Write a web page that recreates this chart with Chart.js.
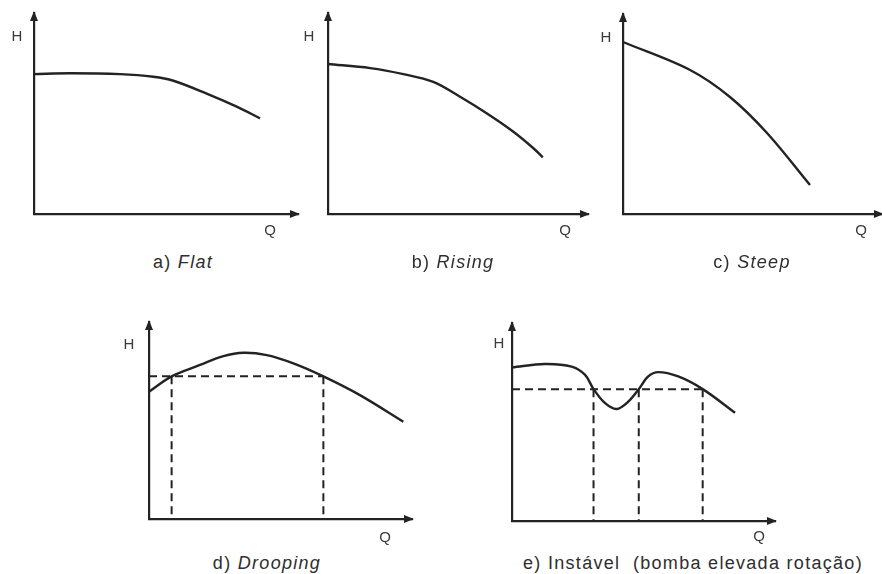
<!DOCTYPE html>
<html>
<head>
<meta charset="utf-8">
<script src="https://cdn.jsdelivr.net/npm/chart.js@4.4.1/dist/chart.umd.min.js"></script>
<style>
  html, body { margin: 0; padding: 0; background: #fff; }
  body { position: relative; width: 882px; height: 574px; overflow: hidden; }
  canvas { position: absolute; }
  .cap {
    position: absolute;
    transform: translate(-50%, -50%);
    font-family: "Liberation Sans", Arial, sans-serif;
    font-size: 18px;
    letter-spacing: 1.3px;
    color: #2e2e2e;
    white-space: pre;
  }
</style>
</head>
<body>
<script>
// curve data, Q and H in % of the axis length
const flatQ = [0, 13.6, 32.6, 45.2, 52.8, 65.4, 76.8, 85.6];
const flatH = [69.6, 70.0, 69.6, 68.3, 66.3, 59.9, 53.4, 47.6];

const risingQ = [0, 16.2, 29.0, 40.5, 50.8, 61.0, 71.3, 79.0, 82.6];
const risingH = [74.6, 72.6, 69.6, 65.7, 58.3, 50.1, 40.9, 32.7, 28.2];

const steepQ = [0, 25.9, 41.3, 55.6, 72.2];
const steepH = [86.0, 72.0, 58.5, 40.5, 14.5];

const droopQ = [0, 8.6, 19.4, 28.3, 35.9, 44.8, 54.9, 66.3, 80.2, 96.7];
const droopH = [64.6, 72.4, 78.2, 82.7, 84.4, 83.2, 79.0, 72.4, 62.9, 49.4];
const droopLevel = 72.4;
const droopCross = [8.6, 66.3];

const unstQ = [0, 12.5, 22.7, 27.8, 31.0, 35.4, 39.8, 44.2, 48.2, 51.8, 55.6, 63.2, 72.5, 84.8];
const unstH = [77.6, 79.3, 78.0, 73.8, 66.6, 59.5, 56.6, 60.3, 66.6, 73.0, 75.2, 73.0, 66.6, 54.7];
const unstLevel = 66.6;
const unstCross = [31.0, 48.2, 72.5];

const captions = ['a) ', 'b) ', 'c) ', 'd) ', 'e) '];
const captionNames = ['Flat', 'Rising', 'Steep', 'Drooping', 'Instável  (bomba elevada rotação)'];
const captionItalic = [true, true, true, true, false];

// where each small chart sits on the page (axis origin, arrow tips, label offsets)
const panels = [
  { ox: 34,  oy: 214, xr: 298, yt: 13,  hx: -17, hy: 24, qx: -28, qy: 17, cx: 183, cy: 262 },
  { ox: 328, oy: 214, xr: 588, yt: 13,  hx: -19, hy: 24, qx: -23, qy: 17, cx: 453, cy: 262 },
  { ox: 623, oy: 214, xr: 882, yt: 14,  hx: -17, hy: 24, qx: -21, qy: 17, cx: 752, cy: 262 },
  { ox: 149, oy: 519, xr: 412, yt: 322, hx: -20, hy: 23, qx: -27, qy: 19, cx: 267, cy: 563 },
  { ox: 512, oy: 521, xr: 775, yt: 323, hx: -13, hy: 21, qx: -16, qy: 16, cx: 693, cy: 563 }
];

const curves = [
  [flatQ, flatH, null, []],
  [risingQ, risingH, null, []],
  [steepQ, steepH, null, []],
  [droopQ, droopH, droopLevel, droopCross],
  [unstQ, unstH, unstLevel, unstCross]
];

const INK = '#232323';
const PAD = { left: 40, top: 8, right: 8, bottom: 30 };

// arrow heads + H / Q letters
const axisDeco = {
  id: 'axisDeco',
  afterDraw(chart, args, opts) {
    const { ctx, chartArea: a } = chart;
    ctx.save();
    ctx.fillStyle = INK;
    // up arrow
    ctx.beginPath();
    ctx.moveTo(a.left, a.top - 2);
    ctx.lineTo(a.left - 4, a.top + 8);
    ctx.lineTo(a.left + 4, a.top + 8);
    ctx.closePath();
    ctx.fill();
    // right arrow
    ctx.beginPath();
    ctx.moveTo(a.right + 2, a.bottom);
    ctx.lineTo(a.right - 8, a.bottom - 4);
    ctx.lineTo(a.right - 8, a.bottom + 4);
    ctx.closePath();
    ctx.fill();

    ctx.fillStyle = '#3a3a3a';
    ctx.font = '15px "Liberation Sans", Arial, sans-serif';
    ctx.textAlign = 'center';
    ctx.textBaseline = 'middle';
    ctx.fillText('H', a.left + opts.hx, a.top + opts.hy);
    ctx.fillText('Q', a.right + opts.qx, a.bottom + opts.qy);
    ctx.restore();
  }
};

function makeChart(i) {
  const p = panels[i];
  const [Q, H, level, cross] = curves[i];

  const cv = document.createElement('canvas');
  const w = p.xr - p.ox + PAD.left + PAD.right;
  const h = p.oy - p.yt + PAD.top + PAD.bottom;
  cv.width = w;
  cv.height = h;
  cv.style.left = (p.ox - PAD.left) + 'px';
  cv.style.top = (p.yt - PAD.top) + 'px';
  document.body.appendChild(cv);

  const datasets = [{
    data: Q.map((q, k) => ({ x: q, y: H[k] })),
    borderColor: INK,
    borderWidth: 2.4,
    tension: 0.35,
    pointRadius: 0,
    fill: false,
    clip: false
  }];

  if (level !== null) {
    const dash = { borderColor: INK, borderWidth: 2, borderDash: [8, 5], pointRadius: 0, tension: 0, fill: false, clip: false };
    datasets.push(Object.assign({ data: [{ x: 0, y: level }, { x: Math.max(...cross), y: level }] }, dash));
    cross.forEach(q => {
      datasets.push(Object.assign({ data: [{ x: q, y: level }, { x: q, y: 0 }] }, dash));
    });
  }

  const axis = {
    type: 'linear',
    min: 0,
    max: 100,
    grid: { display: false, drawTicks: false },
    ticks: { display: false },
    border: { display: true, color: INK, width: 2.2 }
  };

  new Chart(cv, {
    type: 'line',
    data: { datasets },
    options: {
      responsive: false,
      animation: false,
      devicePixelRatio: 1,
      layout: { padding: PAD },
      scales: { x: axis, y: Object.assign({}, axis) },
      plugins: {
        legend: { display: false },
        tooltip: { enabled: false },
        axisDeco: { hx: p.hx, hy: p.hy, qx: p.qx, qy: p.qy }
      }
    },
    plugins: [axisDeco]
  });

  const cap = document.createElement('div');
  cap.className = 'cap';
  cap.style.left = p.cx + 'px';
  cap.style.top = p.cy + 'px';
  cap.appendChild(document.createTextNode(captions[i]));
  const name = document.createElement('span');
  if (captionItalic[i]) name.style.fontStyle = 'italic';
  name.textContent = captionNames[i];
  cap.appendChild(name);
  document.body.appendChild(cap);
}

for (let i = 0; i < panels.length; i++) makeChart(i);
</script>
</body>
</html>
